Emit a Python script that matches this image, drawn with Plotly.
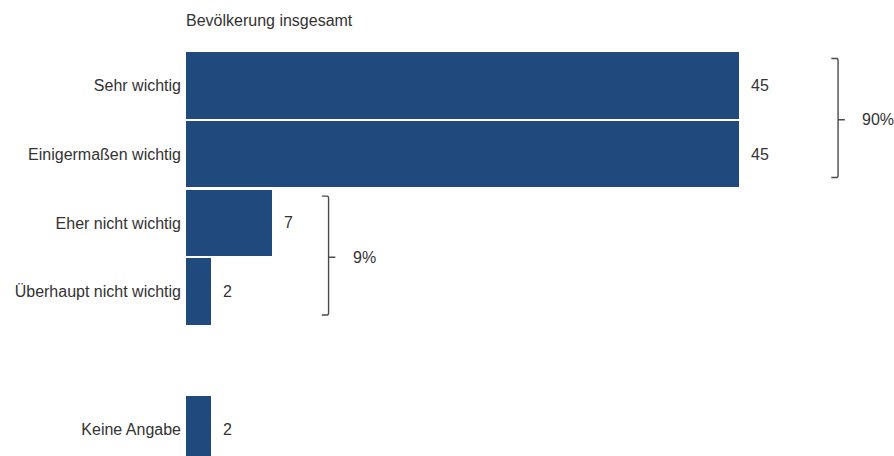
import plotly.graph_objects as go

# Survey answers and their shares (percent)
categories = ["Sehr wichtig", "Einigermaßen wichtig", "Eher nicht wichtig",
              "Überhaupt nicht wichtig", "Keine Angabe"]
values = [45, 45, 7, 2, 2]
# row slots (slot 4 is left empty to separate "Keine Angabe")
slots = [0, 1, 2, 3, 5]

# summary brackets: first row, last row, total label
bracket_rows = [(0, 1), (2, 3)]
bracket_totals = ["90%", "9%"]
bracket_x = [53.05, 11.6]

title_text = "Bevölkerung insgesamt"

BAR = "#204a7d"
TXT = "#333333"
FONT = "Liberation Sans, Arial, sans-serif"
FS = 16

fig = go.Figure()
fig.add_trace(go.Bar(
    x=values, y=slots, orientation="h", width=0.97,
    marker=dict(color=BAR, line=dict(width=0)),
    hoverinfo="skip",
))

annotations = []
for v, s in zip(values, slots):
    annotations.append(dict(x=v, y=s, xref="x", yref="y", text=str(v),
                            showarrow=False, xanchor="left", xshift=10,
                            font=dict(size=FS, color=TXT, family=FONT)))

shapes = []
for (r0, r1), total, bx in zip(bracket_rows, bracket_totals, bracket_x):
    y0 = r0 - 0.39
    y1 = r1 + 0.34
    ym = (r0 + r1) / 2
    hook = 0.55
    path = (f"M {bx - hook},{y0} L {bx - 0.1},{y0} Q {bx},{y0} {bx},{y0 + 0.04} "
            f"L {bx},{y1 - 0.04} Q {bx},{y1} {bx - 0.1},{y1} L {bx - hook},{y1} "
            f"M {bx},{ym} L {bx + 0.55},{ym}")
    shapes.append(dict(type="path", path=path, xref="x", yref="y",
                       line=dict(color="#4a4a4a", width=1.4)))
    annotations.append(dict(x=bx, y=ym, xref="x", yref="y", text=total,
                            showarrow=False, xanchor="left", xshift=22,
                            font=dict(size=FS, color=TXT, family=FONT)))

annotations.append(dict(x=0, y=1, xref="paper", yref="paper", text=title_text,
                        showarrow=False, xanchor="left", yanchor="bottom",
                        yshift=20, xshift=-2,
                        font=dict(size=FS, color=TXT, family=FONT)))

fig.update_layout(
    width=894, height=456,
    margin=dict(l=186, r=0, t=51, b=0),
    paper_bgcolor="white", plot_bgcolor="white",
    showlegend=False,
    bargap=0,
    xaxis=dict(range=[0, 57.6], visible=False, fixedrange=True),
    yaxis=dict(range=[5.39, -0.5], tickmode="array", tickvals=slots,
               ticktext=categories, showgrid=False, zeroline=False,
               showline=False, ticks="", ticklabelstandoff=4,
               tickfont=dict(size=FS, color=TXT, family=FONT)),
    shapes=shapes, annotations=annotations,
    font=dict(family=FONT),
)

fig.write_html("out.html")
